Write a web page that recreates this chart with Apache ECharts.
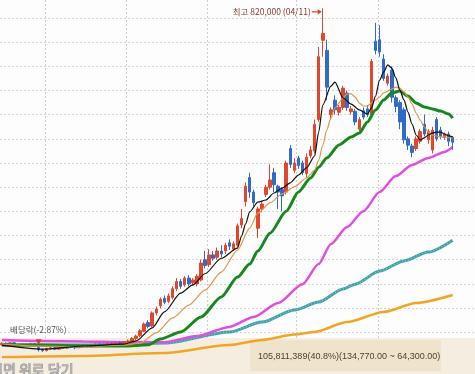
<!DOCTYPE html>
<html><head><meta charset="utf-8">
<script src="https://cdn.jsdelivr.net/npm/echarts@6/dist/echarts.min.js"></script>
<style>html,body{margin:0;padding:0;background:#fdfdfd}#c{width:475px;height:374px}</style>
</head><body><div id="c"></div>
<script>
// Trading days (Dec 2022 - May 2023) plus a few empty days on the right
const dates = [
'2022-12-15','2022-12-16','2022-12-19','2022-12-20','2022-12-21','2022-12-22','2022-12-23','2022-12-26','2022-12-27','2022-12-28','2022-12-29',
'2023-01-02','2023-01-03','2023-01-04','2023-01-05','2023-01-06','2023-01-09','2023-01-10','2023-01-11','2023-01-12','2023-01-13','2023-01-16','2023-01-17','2023-01-18','2023-01-19','2023-01-20','2023-01-25','2023-01-26','2023-01-27','2023-01-30','2023-01-31',
'2023-02-01','2023-02-02','2023-02-03','2023-02-06','2023-02-07','2023-02-08','2023-02-09','2023-02-10','2023-02-13','2023-02-14','2023-02-15','2023-02-16','2023-02-17','2023-02-20','2023-02-21','2023-02-22','2023-02-23','2023-02-24','2023-02-27','2023-02-28',
'2023-03-02','2023-03-03','2023-03-06','2023-03-07','2023-03-08','2023-03-09','2023-03-10','2023-03-13','2023-03-14','2023-03-15','2023-03-16','2023-03-17','2023-03-20','2023-03-21','2023-03-22','2023-03-23','2023-03-24','2023-03-27','2023-03-28','2023-03-29','2023-03-30','2023-03-31',
'2023-04-03','2023-04-04','2023-04-05','2023-04-06','2023-04-07','2023-04-10','2023-04-11','2023-04-12','2023-04-13','2023-04-14','2023-04-17','2023-04-18','2023-04-19','2023-04-20','2023-04-21','2023-04-24','2023-04-25','2023-04-26','2023-04-27','2023-04-28',
'2023-05-02','2023-05-03','2023-05-04','2023-05-08','2023-05-09','2023-05-10','2023-05-11','2023-05-12','2023-05-15','2023-05-16','2023-05-17','2023-05-18','2023-05-19','2023-05-22','2023-05-23','2023-05-24','2023-05-25','2023-05-26','2023-05-30',
'2023-05-31','2023-06-01','2023-06-02','2023-06-05','2023-06-07'
];

const open = [
124000,127000,125000,128000,124000,122000,125000,123000,126000,118000,
114000,112000,116000,118000,115000,119000,117000,121000,119000,118000,
122000,120000,123000,121000,125000,123000,124000,127000,125000,128000,
126000,130000,
128000,137000,143000,152000,170000,163000,190000,205000,
220000,214000,222000,240000,255000,248000,262000,252000,250000,258000,
300000,290000,310000,305000,318000,318000,335000,322000,330000,372000,
420000,470000,440000,365000,405000,435000,450000,480000,452000,445000,
440000,530000,485000,510000,500000,478000,515000,525000,590000,754000,
733000,600000,630000,605000,615000,645000,606000,607000,570000,608000,
612000,600000,752000,755000,715000,665000,692000,635000,625000,610000,
550000,535000,530000,545000,580000,548000,527000,590000,568000,553000,
560000,553000
];
const close = [
127000,125000,128000,124000,122000,125000,123000,126000,124000,114000,
112000,116000,118000,115000,119000,117000,121000,119000,118000,122000,
120000,123000,121000,125000,123000,124000,127000,125000,128000,126000,
130000,132000,
137000,142000,153000,167000,162000,190000,198000,218000,
212000,225000,240000,255000,245000,262000,250000,258000,266000,293000,
288000,310000,303000,318000,312000,330000,328000,333000,370000,385000,
452000,440000,418000,405000,415000,450000,465000,455000,440000,432000,
500000,497000,500000,495000,480000,512000,527000,580000,720000,768000,
657000,610000,610000,615000,655000,615000,612000,585000,590000,595000,
600000,710000,733000,730000,675000,680000,636000,617000,585000,548000,
537000,522000,550000,565000,560000,565000,568000,550000,555000,560000,
545000,543000
];
const low = [
122000,123000,124000,122000,120000,121000,121000,122000,121000,110000,
109000,110000,114000,113000,114000,115000,116000,117000,115000,117000,
118000,119000,119000,120000,121000,121000,123000,123000,124000,125000,
125000,128000,
125000,134000,140000,150000,158000,160000,185000,200000,
208000,210000,218000,235000,240000,244000,245000,246000,245000,255000,
282000,285000,298000,300000,305000,312000,320000,318000,325000,365000,
410000,428000,410000,345000,398000,430000,445000,440000,405000,400000,
435000,490000,480000,488000,475000,470000,510000,520000,585000,720000,
630000,590000,600000,598000,610000,608000,600000,578000,565000,590000,
595000,595000,725000,720000,670000,660000,625000,605000,570000,540000,
527000,512000,525000,540000,555000,540000,520000,545000,550000,548000,
535000,527000
];
const high = [
129000,129000,130000,129000,126000,127000,126000,128000,127000,121000,
116000,118000,120000,119000,121000,121000,123000,122000,121000,124000,
124000,125000,125000,127000,127000,126000,129000,129000,130000,131000,
132000,135000,
140000,145000,156000,170000,175000,193000,203000,222000,
226000,230000,245000,262000,260000,266000,268000,262000,270000,300000,
318000,322000,318000,325000,330000,335000,342000,338000,375000,405000,
460000,480000,445000,410000,420000,455000,497000,490000,455000,450000,
505000,537000,510000,515000,505000,520000,535000,590000,740000,820000,
755000,615000,640000,620000,660000,650000,618000,612000,595000,615000,
620000,715000,790000,785000,725000,685000,700000,640000,630000,615000,
555000,540000,555000,570000,600000,570000,575000,595000,575000,563000,
565000,555000
];

// Moving averages: [day index, value]
const ma5 = [[0,123500],[10,115000],[20,121500],[30,125500],[33,132000],[37,159000],[40,192000],[44,231000],[47,248000],[50,271000],[54,303000],[58,324000],[59,349000],[60,374000],[61,399000],[63,419000],[65,423500],[67,438000],[69,448000],[71,459000],[73,475000],[75,490000],[77,514500],[78,564000],[79,620000],[81,659000],[82,667500],[84,634500],[86,622000],[88,610000],[90,601500],[91,614000],[92,638500],[93,671500],[94,688500],[95,703000],[96,696500],[97,676000],[98,651000],[99,630500],[100,605500],[101,580500],[102,558000],[103,547500],[104,552000],[105,558000],[106,562000],[107,564000],[108,564000],[109,560000],[110,556000],[111,554000]];
const ma10 = [[0,125500],[10,121500],[20,119500],[30,123500],[34,127500],[38,148500],[42,179500],[46,206000],[50,237000],[54,274500],[58,320000],[61,365500],[63,396500],[66,417500],[69,436000],[72,450500],[75,469000],[77,485500],[78,506000],[79,537000],[80,568500],[81,593000],[82,614000],[84,634500],[85,643000],[86,643000],[87,636500],[88,624000],[89,618000],[90,618000],[91,624000],[92,630500],[93,636500],[94,645000],[96,653000],[97,657000],[98,655000],[99,647000],[100,636500],[101,622000],[102,603500],[103,589000],[104,574500],[105,564000],[106,558000],[108,554000],[111,552000]];
const ma20 = [[0,123500],[10,123500],[20,121500],[30,121500],[36,124000],[39,136000],[44,150500],[49,181500],[54,223000],[58,264000],[61,291000],[63,318000],[66,355000],[70,400500],[73,440000],[76,469000],[78,491500],[80,510500],[83,537500],[86,554000],[88,562000],[90,585000],[92,609500],[94,630500],[96,645000],[98,649000],[100,638500],[102,624000],[104,616000],[106,612000],[108,607500],[110,601500],[111,593000]];
const ma60 = [[0,134000],[10,132000],[20,131000],[30,129500],[40,129500],[48,142000],[56,161000],[62,181500],[68,210500],[74,249500],[78,291000],[81,332500],[85,367500],[89,400500],[93,440000],[97,473000],[101,496000],[105,510500],[109,523000],[111,533000]];
const ma120 = [[0,123500],[20,123500],[40,127500],[56,150500],[64,171000],[72,196000],[78,212500],[84,239500],[87,249500],[93,276500],[99,297500],[105,316000],[111,340500]];
const ma240 = [[0,98500],[20,101000],[40,107000],[56,123500],[64,134000],[72,145500],[77,150500],[85,171000],[94,192000],[102,210500],[111,227000]];

const peakLabel = '최고 820,000 (04/11)';
const exDivLabel = '배당락(-2.87%)';
const infoLabel = '105,811,389(40.8%)(134,770.00 ~ 64,300.00)';
const subtitle = '서면 위로 당기';
const peakIndex = 79, exDivIndex = 9;

const chart = echarts.init(document.getElementById('c'), null, {renderer: 'canvas'});
const candles = open.map((o, i) => [o, close[i], low[i], high[i]]);
const monthStarts = [];
dates.forEach((d, i) => { if (i > 0 && i < open.length && d.slice(0, 7) !== dates[i - 1].slice(0, 7)) monthStarts.push(i); });
const gridLine = {color: '#d5d5d5', type: [2, 2], width: 1};
const ln = (name, data, color, width, z, type) => ({
  type: 'line', name, data, symbol: 'none', smooth: 0.25, smoothMonotone: 'x', clip: false,
  lineStyle: {color, width, type: type || 'solid'}, z, silent: true
});

chart.setOption({
  animation: false,
  backgroundColor: '#fdfdfd',
  grid: {left: 0, right: 0, top: 18, bottom: 17.6},
  xAxis: {
    type: 'category', data: dates, boundaryGap: true,
    axisLine: {show: false}, axisTick: {show: false}, axisLabel: {show: false},
    splitLine: {show: false}
  },
  yAxis: {
    type: 'value', min: 100000, max: 800000, interval: 50000,
    axisLine: {show: false}, axisTick: {show: false}, axisLabel: {show: false},
    splitLine: {show: true, lineStyle: gridLine}
  },
  series: [
    ln('MA240', ma240, '#f0a526', 2.5, 3),
    ln('MA120', ma120, '#3f9fa8', 3, 3),
    ln('MA120 texture', ma120, '#86cfd4', 1.2, 3, [1, 2]),
    ln('MA60', ma60, '#e24ee0', 2.5, 3),
    {
      type: 'candlestick', data: candles, barWidth: 3, z: 4, silent: true, clip: false,
      itemStyle: {color: '#e2462c', color0: '#2f6cc8', borderColor: '#e2462c', borderColor0: '#2f6cc8', borderWidth: 1}
    },
    ln('MA20', ma20, '#17891c', 3, 5),
    ln('MA10', ma10, '#e0964a', 1.2, 5),
    ln('MA5', ma5, '#111111', 1.2, 6)
  ]
});

const px = (i, v) => chart.convertToPixel({xAxisIndex: 0, yAxisIndex: 0}, [i, v]);
const p = px(peakIndex, high[peakIndex]);
const q = px(exDivIndex, high[exDivIndex]);
const band = px(1, 300000)[0] - px(0, 300000)[0];
// month separators at the left edge of each month's first trading day
const vLines = monthStarts.map((i) => {
  const x = Math.round(px(i, 300000)[0] - band / 2) + 0.5;
  return {type: 'line', z: 2, silent: true, shape: {x1: x, y1: 0, x2: x, y2: 338}, style: {stroke: '#cfcfcf', lineWidth: 1, lineDash: [2, 2]}};
});

chart.setOption({
  graphic: vLines.concat([
    {type: 'rect', z: 1, silent: true, shape: {x: 0, y: 338, width: 475, height: 36}, style: {fill: '#f5eee0'}},
    {type: 'rect', z: 1, silent: true, shape: {x: 250, y: 340, width: 191, height: 31}, style: {fill: '#efe3cb'}},
    {type: 'text', z: 20, silent: true, x: 258, y: 357, style: {text: infoLabel, fill: '#4e4232', font: '9px "Liberation Sans", Arial, sans-serif', verticalAlign: 'middle'}},
    {type: 'text', z: 20, silent: true, x: -10, y: 363, style: {text: subtitle, fill: '#b4b4b4', stroke: '#8a8a8a', lineWidth: 0.8, font: '14px "Noto Sans CJK KR", sans-serif', verticalAlign: 'top'}},
    {type: 'text', z: 20, silent: true, x: p[0] - 12, y: p[1] + 3.5, style: {text: peakLabel, fill: '#8b3a2c', font: '8.5px "Noto Sans CJK KR", sans-serif', align: 'right', verticalAlign: 'middle'}},
    {type: 'line', z: 20, silent: true, shape: {x1: p[0] - 11, y1: p[1] + 3.5, x2: p[0] - 4, y2: p[1] + 3.5}, style: {stroke: '#d8402c', lineWidth: 1.2}},
    {type: 'polygon', z: 20, silent: true, shape: {points: [[p[0] - 1, p[1] + 3.5], [p[0] - 5, p[1] + 0.8], [p[0] - 5, p[1] + 6.2]]}, style: {fill: '#d8402c'}},
    {type: 'text', z: 20, silent: true, x: q[0] - 28.5, y: q[1] - 16, style: {text: exDivLabel, fill: '#555555', font: '8.5px "Noto Sans CJK KR", sans-serif', verticalAlign: 'middle'}},
    {type: 'polygon', z: 20, silent: true, shape: {points: [[q[0] - 3, q[1] - 7], [q[0] + 3, q[1] - 7], [q[0], q[1] - 1.5]]}, style: {fill: '#e0303a'}}
  ])
});
</script>
</body></html>
